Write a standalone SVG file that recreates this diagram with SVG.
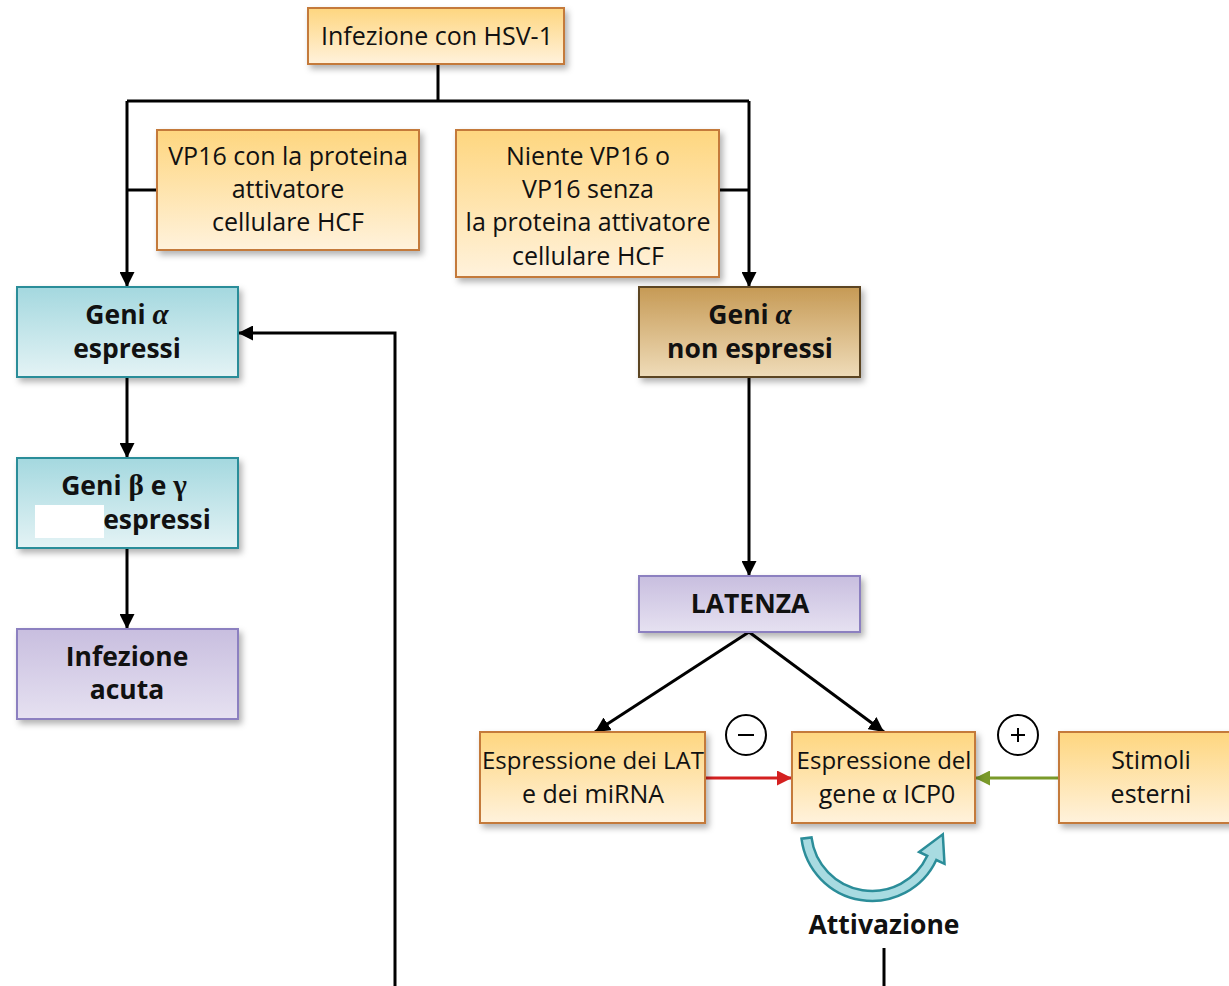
<svg xmlns="http://www.w3.org/2000/svg" width="1229" height="986" viewBox="0 0 1229 986">
<style>
text{font-family:"Open Sans","Noto Sans",sans-serif;fill:#111;text-anchor:middle}
.r{font-size:25px}
.s{font-size:24px}
.b{font-size:26.5px;font-weight:bold}
.g{font-family:"Liberation Serif","DejaVu Serif",serif;font-size:1.1em}
.ln{fill:none;stroke:#000;stroke-width:3}
.org{fill:url(#gO);stroke:#c47a3a;stroke-width:2;filter:url(#sh)}
.tea{fill:url(#gT);stroke:#2b8d99;stroke-width:2;filter:url(#sh)}
.pur{fill:url(#gP);stroke:#8c80c0;stroke-width:2;filter:url(#sh)}
.brn{fill:url(#gB);stroke:#5c4520;stroke-width:2;filter:url(#sh)}
</style>
<defs>
<filter id="sh" x="-10%" y="-10%" width="125%" height="130%"><feDropShadow dx="3" dy="4" stdDeviation="3" flood-color="#000" flood-opacity="0.3"/></filter>
<linearGradient id="gO" x1="0" y1="0" x2="0" y2="1"><stop offset="0" stop-color="#fed67f"/><stop offset="1" stop-color="#fff2dc"/></linearGradient>
<linearGradient id="gT" x1="0" y1="0" x2="0" y2="1"><stop offset="0" stop-color="#a4d8df"/><stop offset="1" stop-color="#e4f3f5"/></linearGradient>
<linearGradient id="gP" x1="0" y1="0" x2="0" y2="1"><stop offset="0" stop-color="#c8bedf"/><stop offset="1" stop-color="#e6e1f1"/></linearGradient>
<linearGradient id="gB" x1="0" y1="0" x2="0" y2="1"><stop offset="0" stop-color="#c69a55"/><stop offset="1" stop-color="#efdcb9"/></linearGradient>
<marker id="ak" viewBox="0 0 10 10" refX="10" refY="5" markerWidth="5" markerHeight="5" markerUnits="strokeWidth" orient="auto"><path d="M0 0L10 5L0 10z" fill="#000"/></marker>
<marker id="ar" viewBox="0 0 10 10" refX="10" refY="5" markerWidth="5" markerHeight="5" markerUnits="strokeWidth" orient="auto"><path d="M0 0L10 5L0 10z" fill="#d42020"/></marker>
<marker id="ag" viewBox="0 0 10 10" refX="10" refY="5" markerWidth="5" markerHeight="5" markerUnits="strokeWidth" orient="auto"><path d="M0 0L10 5L0 10z" fill="#7a9a2a"/></marker>
</defs>

<g id="connectors">
<path class="ln" d="M438 64V101"/>
<path class="ln" d="M127 101H749"/>
<path class="ln" d="M127 101V287" marker-end="url(#ak)"/>
<path class="ln" d="M749 101V287" marker-end="url(#ak)"/>
<path class="ln" d="M127 190H157"/>
<path class="ln" d="M719 190H749"/>
<path class="ln" d="M127 377V458" marker-end="url(#ak)"/>
<path class="ln" d="M127 548V629" marker-end="url(#ak)"/>
<path class="ln" d="M749 377V576" marker-end="url(#ak)"/>
<path class="ln" d="M749 632L595 732" marker-end="url(#ak)"/>
<path class="ln" d="M749 632L884 732" marker-end="url(#ak)"/>
<path fill="none" stroke="#d42020" stroke-width="3" d="M705 778H792" marker-end="url(#ar)"/>
<path fill="none" stroke="#7a9a2a" stroke-width="3" d="M1059 778H975" marker-end="url(#ag)"/>
<path class="ln" d="M884 948V988H395V333H238" marker-end="url(#ak)"/>
</g>

<g id="n-top"><rect class="org" x="308" y="8" width="256" height="56"/><text class="r" x="437" y="45">Infezione con HSV-1</text></g>

<g id="n-vp16"><rect class="org" x="157" y="130" width="262" height="120"/>
<text class="r" x="288" y="165">VP16 con la proteina</text><text class="r" x="288" y="198">attivatore</text><text class="r" x="288" y="231">cellulare HCF</text></g>

<g id="n-niente"><rect class="org" x="456" y="130" width="263" height="147"/>
<text class="r" x="588" y="165">Niente VP16 o</text><text class="r" x="588" y="198">VP16 senza</text><text class="r" x="588" y="231">la proteina attivatore</text><text class="r" x="588" y="265">cellulare HCF</text></g>

<g id="n-alfa"><rect class="tea" x="17" y="287" width="221" height="90"/>
<text class="b" x="127" y="324">Geni <tspan class="g" font-style="italic">α</tspan></text><text class="b" x="127" y="358">espressi</text></g>

<g id="n-betagamma"><rect class="tea" x="17" y="458" width="221" height="90"/>
<text class="b" x="124" y="495">Geni <tspan class="g">β</tspan> e <tspan class="g">γ</tspan></text>
<rect x="35" y="505" width="69" height="33" fill="#fff"/>
<text class="b" x="157" y="529">espressi</text></g>

<g id="n-acuta"><rect class="pur" x="17" y="629" width="221" height="90"/>
<text class="b" x="127" y="666">Infezione</text><text class="b" x="127" y="699">acuta</text></g>

<g id="n-nonespressi"><rect class="brn" x="639" y="287" width="221" height="90"/>
<text class="b" x="750" y="324">Geni <tspan class="g" font-style="italic">α</tspan></text><text class="b" x="750" y="358">non espressi</text></g>

<g id="n-latenza"><rect class="pur" x="639" y="576" width="221" height="56"/>
<text class="b" x="750" y="613">LATENZA</text></g>

<g id="n-lat"><rect class="org" x="480" y="732" width="225" height="91"/>
<text class="s" x="593" y="769">Espressione dei LAT</text><text class="r" x="593" y="803">e dei miRNA</text></g>

<g id="n-icp0"><rect class="org" x="792" y="732" width="183" height="91"/>
<text class="s" x="884" y="769">Espressione del</text><text class="r" x="887" y="803">gene <tspan class="g">α</tspan> ICP0</text></g>

<g id="n-stimoli"><rect class="org" x="1059" y="732" width="180" height="91"/>
<text class="r" x="1151" y="769">Stimoli</text><text class="r" x="1151" y="803">esterni</text></g>

<g id="minus"><circle cx="746" cy="735" r="20" fill="#fff" stroke="#000" stroke-width="2"/><path d="M738 735H754" stroke="#000" stroke-width="2"/></g>
<g id="plus"><circle cx="1018" cy="735" r="20" fill="#fff" stroke="#000" stroke-width="2"/><path d="M1011 735H1025M1018 728V742" stroke="#000" stroke-width="2"/></g>

<g id="attivazione">
<path d="M801.5 838.7A71 71 0 0 0 936.3 860L944.5 863.8L942.8 834.3L919.1 852L927.3 855.8A61 61 0 0 1 811.5 837.4Z" fill="#a8dbe1" stroke="#2b8d99" stroke-width="2.5" stroke-linejoin="miter"/>
<text class="b" x="884" y="934" font-size="27.5px">Attivazione</text>
</g>
</svg>
